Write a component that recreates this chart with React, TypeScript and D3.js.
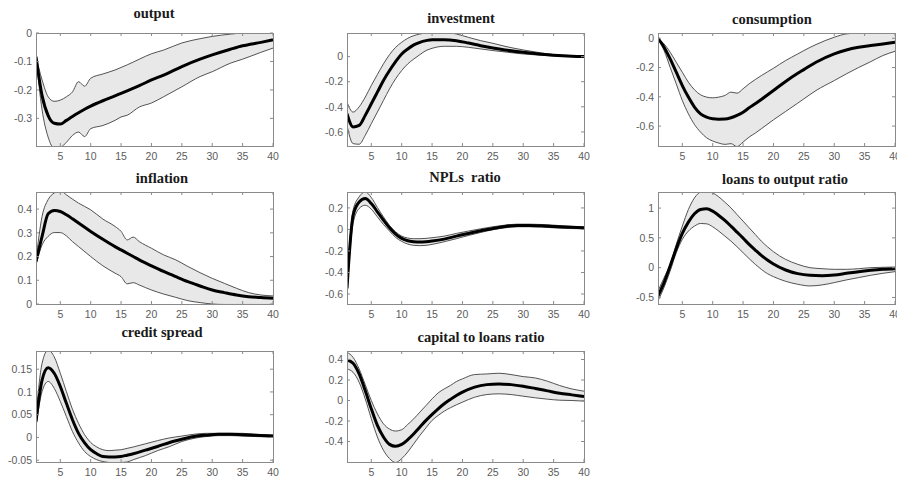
import React from 'react';
import * as d3 from 'd3';

// impulse responses: median and the two band edges
const outT = [1, 2, 3, 4, 5, 6, 7, 8, 9, 10, 12, 14, 15, 16, 18, 20, 22, 25, 28, 30, 33, 35, 38, 40];
const outMed = [-0.083, -0.22, -0.29, -0.317, -0.32, -0.307, -0.293, -0.28, -0.268, -0.257, -0.238, -0.221, -0.212, -0.203, -0.185, -0.165, -0.148, -0.118, -0.092, -0.077, -0.057, -0.045, -0.033, -0.024];
const outUp = [-0.083, -0.165, -0.224, -0.24, -0.236, -0.224, -0.207, -0.171, -0.187, -0.159, -0.144, -0.13, -0.121, -0.112, -0.092, -0.073, -0.06, -0.035, -0.02, -0.012, -0.004, 0.0, 0.002, 0.0];
const outLo = [-0.083, -0.27, -0.366, -0.405, -0.402, -0.384, -0.36, -0.348, -0.364, -0.336, -0.325, -0.307, -0.295, -0.289, -0.26, -0.246, -0.224, -0.189, -0.153, -0.136, -0.106, -0.092, -0.068, -0.053];

const invT = [1, 2, 3, 4, 5, 6, 7, 8, 9, 10, 11, 12, 13, 14, 15, 17, 19, 21, 23, 25, 27, 30, 33, 35, 38, 40];
const invMed = [-0.455, -0.56, -0.548, -0.468, -0.376, -0.283, -0.19, -0.111, -0.04, 0.021, 0.061, 0.093, 0.114, 0.127, 0.135, 0.135, 0.127, 0.108, 0.087, 0.069, 0.053, 0.034, 0.019, 0.011, 0.003, 0];
const invUp = [-0.362, -0.442, -0.4, -0.323, -0.23, -0.143, -0.058, 0.016, 0.074, 0.114, 0.146, 0.167, 0.18, 0.188, 0.19, 0.192, 0.18, 0.153, 0.127, 0.106, 0.082, 0.053, 0.029, 0.016, 0.008, 0.003];
const invLo = [-0.548, -0.693, -0.698, -0.627, -0.534, -0.442, -0.349, -0.257, -0.177, -0.111, -0.058, -0.019, 0.016, 0.048, 0.066, 0.082, 0.082, 0.074, 0.061, 0.048, 0.037, 0.021, 0.011, 0.005, 0, -0.003];

const conT = [1, 2, 3, 4, 5, 6, 7, 8, 9, 10, 11, 12, 13, 14, 15, 16, 17, 18, 20, 22, 24, 25, 27, 30, 32, 34, 36, 38, 40];
const conMed = [0, -0.061, -0.141, -0.232, -0.323, -0.402, -0.47, -0.516, -0.539, -0.55, -0.553, -0.552, -0.543, -0.527, -0.505, -0.475, -0.448, -0.418, -0.357, -0.295, -0.239, -0.214, -0.164, -0.107, -0.08, -0.062, -0.05, -0.039, -0.027];
const conUp = [0, -0.039, -0.095, -0.164, -0.232, -0.3, -0.352, -0.386, -0.402, -0.407, -0.402, -0.391, -0.368, -0.375, -0.345, -0.311, -0.282, -0.255, -0.205, -0.152, -0.107, -0.084, -0.043, 0.007, 0.03, 0.036, 0.038, 0.038, 0.038];
const conLo = [0, -0.084, -0.198, -0.311, -0.425, -0.516, -0.589, -0.641, -0.68, -0.702, -0.716, -0.725, -0.72, -0.74, -0.709, -0.675, -0.648, -0.618, -0.557, -0.5, -0.443, -0.414, -0.357, -0.289, -0.243, -0.2, -0.16, -0.118, -0.089];

const infT = [1, 2, 3, 4, 5, 6, 7, 8, 10, 12, 14, 15, 16, 17, 18, 20, 22, 24, 26, 28, 30, 32, 34, 36, 38, 40];
const infMed = [0.179, 0.285, 0.38, 0.394, 0.39, 0.376, 0.359, 0.341, 0.306, 0.273, 0.242, 0.228, 0.214, 0.2, 0.186, 0.161, 0.137, 0.115, 0.094, 0.076, 0.059, 0.048, 0.038, 0.031, 0.027, 0.024];
const infUp = [0.186, 0.369, 0.44, 0.468, 0.478, 0.46, 0.442, 0.425, 0.397, 0.358, 0.327, 0.306, 0.27, 0.282, 0.263, 0.235, 0.207, 0.186, 0.158, 0.132, 0.108, 0.087, 0.066, 0.048, 0.038, 0.034];
const infLo = [0.165, 0.249, 0.285, 0.301, 0.301, 0.287, 0.263, 0.242, 0.2, 0.161, 0.13, 0.115, 0.085, 0.09, 0.08, 0.059, 0.042, 0.028, 0.014, 0.006, 0.0, -0.002, -0.002, -0.002, -0.002, -0.002];

const nplT = [1, 2, 3, 4, 5, 6, 7, 8, 9, 10, 11, 12, 13, 14, 15, 17, 19, 21, 23, 25, 27, 29, 31, 33, 35, 37, 40];
const nplMed = [-0.547, 0.13, 0.256, 0.287, 0.241, 0.164, 0.086, 0.015, -0.043, -0.083, -0.105, -0.114, -0.117, -0.114, -0.108, -0.09, -0.062, -0.037, -0.012, 0.009, 0.028, 0.037, 0.037, 0.034, 0.028, 0.022, 0.015];
const nplUp = [-0.516, 0.179, 0.303, 0.349, 0.297, 0.204, 0.117, 0.037, -0.022, -0.062, -0.08, -0.086, -0.086, -0.083, -0.077, -0.062, -0.037, -0.015, 0.006, 0.025, 0.04, 0.049, 0.049, 0.046, 0.04, 0.031, 0.022];
const nplLo = [-0.593, 0.056, 0.195, 0.225, 0.188, 0.117, 0.046, -0.015, -0.074, -0.111, -0.136, -0.148, -0.151, -0.148, -0.139, -0.114, -0.086, -0.056, -0.028, -0.003, 0.015, 0.025, 0.025, 0.022, 0.015, 0.009, 0.006];

const lnT = [1, 2, 3, 4, 5, 6, 7, 8, 9, 10, 11, 12, 13, 14, 15, 16, 17, 18, 19, 20, 22, 24, 26, 28, 30, 32, 34, 36, 38, 40];
const lnMed = [-0.474, -0.251, 0.028, 0.318, 0.574, 0.764, 0.904, 0.976, 0.987, 0.948, 0.876, 0.792, 0.697, 0.597, 0.496, 0.39, 0.296, 0.206, 0.128, 0.061, -0.039, -0.1, -0.128, -0.134, -0.123, -0.095, -0.067, -0.045, -0.028, -0.017];
const lnUp = [-0.39, -0.17, 0.056, 0.39, 0.697, 0.976, 1.171, 1.27, 1.29, 1.255, 1.188, 1.099, 1.004, 0.892, 0.781, 0.669, 0.558, 0.446, 0.351, 0.268, 0.139, 0.056, 0, -0.017, -0.028, -0.028, -0.017, 0, 0.006, 0.011];
const lnLo = [-0.558, -0.33, -0.056, 0.25, 0.474, 0.613, 0.697, 0.742, 0.736, 0.686, 0.613, 0.53, 0.446, 0.351, 0.251, 0.151, 0.056, -0.028, -0.1, -0.151, -0.229, -0.279, -0.307, -0.29, -0.251, -0.206, -0.167, -0.128, -0.095, -0.067];

const csT = [1, 2, 3, 4, 5, 6, 7, 8, 9, 10, 11, 12, 13, 14, 15, 16, 17, 19, 21, 23, 25, 27, 29, 31, 33, 35, 37, 40];
const csMed = [0.035, 0.126, 0.153, 0.141, 0.112, 0.075, 0.039, 0.009, -0.012, -0.027, -0.036, -0.042, -0.043, -0.043, -0.042, -0.039, -0.036, -0.028, -0.02, -0.011, -0.004, 0.002, 0.005, 0.007, 0.007, 0.006, 0.005, 0.003];
const csUp = [0.046, 0.163, 0.192, 0.177, 0.141, 0.101, 0.062, 0.031, 0.006, -0.011, -0.021, -0.027, -0.029, -0.028, -0.027, -0.024, -0.021, -0.014, -0.007, -0.001, 0.003, 0.007, 0.009, 0.009, 0.009, 0.009, 0.007, 0.005];
const csLo = [0.024, 0.101, 0.123, 0.108, 0.079, 0.046, 0.013, -0.012, -0.031, -0.042, -0.049, -0.053, -0.055, -0.056, -0.055, -0.054, -0.049, -0.04, -0.029, -0.02, -0.009, -0.002, 0.002, 0.004, 0.004, 0.003, 0.002, 0.001];

const capT = [1, 2, 3, 4, 5, 6, 7, 8, 9, 10, 11, 12, 13, 14, 15, 16, 17, 18, 19, 20, 22, 24, 26, 28, 30, 32, 34, 36, 38, 40];
const capMed = [0.395, 0.363, 0.259, 0.097, -0.081, -0.243, -0.356, -0.428, -0.447, -0.428, -0.382, -0.324, -0.259, -0.194, -0.136, -0.081, -0.032, 0.01, 0.049, 0.081, 0.13, 0.155, 0.162, 0.155, 0.139, 0.117, 0.094, 0.071, 0.055, 0.039];
const capUp = [0.47, 0.421, 0.308, 0.155, 0, -0.13, -0.227, -0.279, -0.298, -0.285, -0.233, -0.178, -0.113, -0.049, 0.016, 0.074, 0.113, 0.146, 0.185, 0.211, 0.253, 0.259, 0.266, 0.253, 0.233, 0.22, 0.188, 0.146, 0.113, 0.091];
const capLo = [0.308, 0.275, 0.178, 0.016, -0.178, -0.356, -0.486, -0.567, -0.605, -0.567, -0.502, -0.421, -0.34, -0.266, -0.194, -0.146, -0.104, -0.071, -0.042, -0.016, 0.032, 0.058, 0.065, 0.058, 0.042, 0.026, 0.013, 0.003, 0, -0.006];

const xTicks = [5, 10, 15, 20, 25, 30, 35, 40];

const panels = [
  { title: 'output', t: outT, med: outMed, up: outUp, lo: outLo, domain: [-0.397, 0], ticks: [-0.3, -0.2, -0.1, 0] },
  { title: 'investment', t: invT, med: invMed, up: invUp, lo: invLo, domain: [-0.712, 0.188], ticks: [-0.6, -0.4, -0.2, 0] },
  { title: 'consumption', t: conT, med: conMed, up: conUp, lo: conLo, domain: [-0.736, 0.036], ticks: [-0.6, -0.4, -0.2, 0] },
  { title: 'inflation', t: infT, med: infMed, up: infUp, lo: infLo, domain: [0, 0.472], ticks: [0, 0.1, 0.2, 0.3, 0.4] },
  { title: 'NPLs  ratio', t: nplT, med: nplMed, up: nplUp, lo: nplLo, domain: [-0.693, 0.348], ticks: [-0.6, -0.4, -0.2, 0, 0.2] },
  { title: 'loans to output ratio', t: lnT, med: lnMed, up: lnUp, lo: lnLo, domain: [-0.61, 1.27], ticks: [-0.5, 0, 0.5, 1] },
  { title: 'credit spread', t: csT, med: csMed, up: csUp, lo: csLo, domain: [-0.054, 0.19], ticks: [-0.05, 0, 0.05, 0.1, 0.15] },
  { title: 'capital to loans ratio', t: capT, med: capMed, up: capUp, lo: capLo, domain: [-0.6, 0.483], ticks: [-0.4, -0.2, 0, 0.2, 0.4] },
];

// layout of the subplot boxes, and where each title sits (centre x, baseline y)
const colLeft = [36, 347, 658];
const rowTop = [33, 192, 351];
const rowHeight = [113, 112, 111];
const boxWidth = 237;
const titlePos = [[154, 17.5], [461, 23], [772, 24], [162, 183], [465, 182], [785, 184], [162, 337], [481, 341.5]];

const fmt = (v: number) => String(Math.round(v * 1000) / 1000);

function Panel({ p, i }: { p: any; i: number }) {
  const left = colLeft[i % 3];
  const top = rowTop[Math.floor(i / 3)];
  const h = rowHeight[Math.floor(i / 3)];
  const x = d3.scaleLinear().domain([1, 40]).range([left, left + boxWidth]);
  const y = d3.scaleLinear().domain(p.domain).range([top + h, top]);
  const idx = d3.range(p.t.length);

  const band = d3.area<number>()
    .curve(d3.curveMonotoneX)
    .x(k => x(p.t[k]))
    .y0(k => y(p.lo[k]))
    .y1(k => y(p.up[k]));
  const line = (vals: number[]) => d3.line<number>()
    .curve(d3.curveMonotoneX)
    .x(k => x(p.t[k]))
    .y(k => y(vals[k]))(idx) as string;

  const clipId = `clip-${i}`;
  const tl = 3;
  const boxColor = '#8a8a8a';
  const labelColor = '#5c5c5c';
  return (
    <g>
      <defs>
        <clipPath id={clipId}>
          <rect x={left} y={top} width={boxWidth} height={h} />
        </clipPath>
      </defs>
      <g clipPath={`url(#${clipId})`}>
        <path d={band(idx) as string} fill="#e8e8e8" />
        <path d={line(p.up)} fill="none" stroke="#404040" strokeWidth={0.9} />
        <path d={line(p.lo)} fill="none" stroke="#404040" strokeWidth={0.9} />
        <path d={line(p.med)} fill="none" stroke="#000" strokeWidth={3} strokeLinejoin="round" />
      </g>
      <rect x={left + 0.5} y={top + 0.5} width={boxWidth} height={h} fill="none" stroke={boxColor} strokeWidth={1} />
      {xTicks.map(t => (
        <g key={`x${t}`}>
          <line x1={x(t)} x2={x(t)} y1={top + h} y2={top + h - tl} stroke={boxColor} />
          <line x1={x(t)} x2={x(t)} y1={top} y2={top + tl} stroke={boxColor} />
          <text x={x(t)} y={top + h + 13.5} textAnchor="middle" fontSize={10.5} fill={labelColor}
            fontFamily="'Liberation Sans', Arial, sans-serif">{t}</text>
        </g>
      ))}
      {p.ticks.map((v: number) => (
        <g key={`y${v}`}>
          <line x1={left} x2={left + tl} y1={y(v)} y2={y(v)} stroke={boxColor} />
          <line x1={left + boxWidth} x2={left + boxWidth - tl} y1={y(v)} y2={y(v)} stroke={boxColor} />
          <text x={left - 4} y={y(v)} dy="0.36em" textAnchor="end" fontSize={10.5} fill={labelColor}
            fontFamily="'Liberation Sans', Arial, sans-serif">{fmt(v)}</text>
        </g>
      ))}
      <text x={titlePos[i][0]} y={titlePos[i][1]} textAnchor="middle" fontSize={14.5} fontWeight="bold"
        fill="#1a1a1a" fontFamily="'Liberation Serif', 'Times New Roman', serif" style={{ whiteSpace: 'pre' }}>
        {p.title}
      </text>
    </g>
  );
}

export default function App() {
  return (
    <div style={{ position: 'absolute', left: 0, top: 0, background: '#fff' }}>
      <svg width={897} height={482} style={{ display: 'block' }}>
        <rect width={897} height={482} fill="#fff" />
        {panels.map((p, i) => <Panel key={p.title} p={p} i={i} />)}
      </svg>
    </div>
  );
}
